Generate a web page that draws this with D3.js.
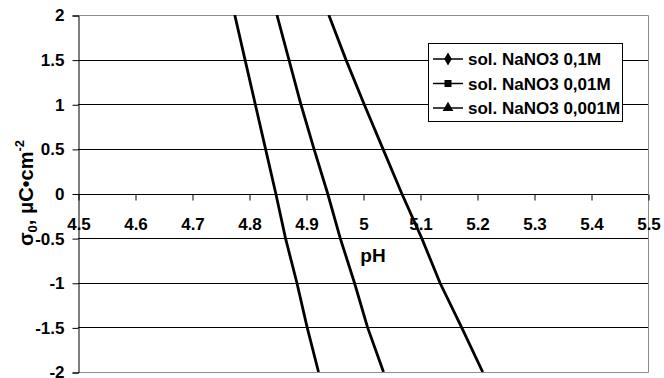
<!DOCTYPE html>
<html>
<head>
<meta charset="utf-8">
<script src="https://cdn.jsdelivr.net/npm/d3@7"></script>
<style>
  html, body { margin: 0; padding: 0; background: #fff; }
  svg { display: block; font-family: "Liberation Sans", Arial, sans-serif; font-weight: bold; }
</style>
</head>
<body>
<svg id="chart" width="664" height="378"></svg>
<script>
// Surface charge density σ0 versus pH for three NaNO3 concentrations
const sigmaValues = [2, 1.5, 1, 0.5, 0, -0.5, -1, -1.5, -2];
const pH_01M   = [4.775, 4.793, 4.811, 4.829, 4.847, 4.864, 4.884, 4.902, 4.922];
const pH_001M  = [4.849, 4.870, 4.891, 4.914, 4.938, 4.960, 4.985, 5.008, 5.036];
const pH_0001M = [4.940, 4.970, 5.002, 5.035, 5.068, 5.103, 5.135, 5.173, 5.210];
const seriesNames = ["sol. NaNO3 0,1M", "sol. NaNO3 0,01M", "sol. NaNO3 0,001M"];
const seriesSymbols = ["diamond", "square", "triangle"];
const xTicks = [4.5, 4.6, 4.7, 4.8, 4.9, 5, 5.1, 5.2, 5.3, 5.4, 5.5];
const yTicks = [2, 1.5, 1, 0.5, 0, -0.5, -1, -1.5, -2];

const series = [pH_01M, pH_001M, pH_0001M].map((vals, i) => ({
  name: seriesNames[i],
  symbol: seriesSymbols[i],
  points: vals.map((ph, j) => ({ x: ph, y: sigmaValues[j] }))
}));

const svg = d3.select("#chart");
const plot = { left: 78, right: 648, top: 15, bottom: 372 };

const x = d3.scaleLinear().domain([4.5, 5.5]).range([plot.left, plot.right]);
const y = d3.scaleLinear().domain([-2, 2]).range([plot.bottom, plot.top]);

// horizontal gridlines
svg.append("g")
  .selectAll("line")
  .data(yTicks.filter(v => v !== 2 && v !== -2 && v !== 0))
  .join("line")
  .attr("x1", plot.left).attr("x2", plot.right)
  .attr("y1", d => Math.round(y(d)) + 0.5).attr("y2", d => Math.round(y(d)) + 0.5)
  .attr("stroke", "#000").attr("stroke-width", 1);

// plot area frame (top, right, bottom)
svg.append("path")
  .attr("d", `M${plot.left},${plot.top + 0.5}H${plot.right + 0.5}V${plot.bottom + 0.5}H${plot.left}`)
  .attr("fill", "none").attr("stroke", "#8c8c8c").attr("stroke-width", 1);

// y axis
const yAxis = d3.axisLeft(y).tickValues(yTicks).tickSize(6).tickPadding(8)
  .tickFormat(d => String(d));
const gy = svg.append("g")
  .attr("transform", `translate(${plot.left + 0.5},0.5)`)
  .call(yAxis);
gy.select(".domain").attr("stroke", "#000");
gy.selectAll(".tick line").attr("stroke", "#000");
gy.selectAll(".tick text")
  .attr("font-size", 17).attr("font-weight", "bold")
  .attr("font-family", "Liberation Sans, Arial, sans-serif")
  .attr("fill", "#000");

// x axis crossing at σ0 = 0
const xAxis = d3.axisBottom(x).tickValues(xTicks).tickSize(6).tickPadding(17)
  .tickFormat(d => String(d));
const gx = svg.append("g")
  .attr("transform", `translate(0.5,${Math.round(y(0)) + 0.5})`)
  .call(xAxis);
gx.select(".domain").attr("stroke", "#000").attr("d", `M${plot.left - 0.5},0H${plot.right - 0.5}`);
gx.selectAll(".tick line").attr("stroke", "#000");
gx.selectAll(".tick text")
  .attr("font-size", 17).attr("font-weight", "bold")
  .attr("font-family", "Liberation Sans, Arial, sans-serif")
  .attr("fill", "#000");

// data lines
svg.append("clipPath").attr("id", "plotClip")
  .append("rect")
  .attr("x", plot.left).attr("y", plot.top)
  .attr("width", plot.right - plot.left).attr("height", plot.bottom - plot.top);

const line = d3.line().x(d => x(d.x)).y(d => y(d.y));
svg.append("g").attr("clip-path", "url(#plotClip)")
  .selectAll("path")
  .data(series)
  .join("path")
  .attr("d", d => line(d.points))
  .attr("fill", "none").attr("stroke", "#000").attr("stroke-width", 2.8);

// axis titles
svg.append("text")
  .attr("x", 373).attr("y", 262)
  .attr("text-anchor", "middle")
  .attr("font-size", 19)
  .text("pH");

const yTitle = svg.append("text")
  .attr("transform", "translate(33,193) rotate(-90)")
  .attr("text-anchor", "middle")
  .attr("font-size", 20);
yTitle.append("tspan").text("σ");
yTitle.append("tspan").attr("font-size", 13).attr("dy", 4).text("0");
yTitle.append("tspan").attr("dy", -4).text(", μC•cm");
yTitle.append("tspan").attr("font-size", 13).attr("dy", -9).text("-2");

// legend
const legend = svg.append("g");
legend.append("rect")
  .attr("x", 428.5).attr("y", 43.5).attr("width", 194).attr("height", 78)
  .attr("fill", "#fff").attr("stroke", "#000").attr("stroke-width", 1);

const symbolType = { diamond: d3.symbolDiamond, square: d3.symbolSquare, triangle: d3.symbolTriangle };
const symbolSize = { diamond: 50, square: 49, triangle: 50 };
const rows = legend.selectAll("g.row")
  .data(series)
  .join("g")
  .attr("class", "row")
  .attr("transform", (d, i) => `translate(0,${59 + i * 24.5})`);
rows.append("line")
  .attr("x1", 433).attr("x2", 463).attr("y1", 0).attr("y2", 0)
  .attr("stroke", "#000").attr("stroke-width", 1.5);
rows.append("path")
  .attr("transform", "translate(448,0)")
  .attr("d", d => d3.symbol().type(symbolType[d.symbol]).size(symbolSize[d.symbol])())
  .attr("fill", "#000");
rows.append("text")
  .attr("x", 468).attr("y", 0).attr("dy", "0.36em")
  .attr("font-size", 17)
  .text(d => d.name);
</script>
</body>
</html>
